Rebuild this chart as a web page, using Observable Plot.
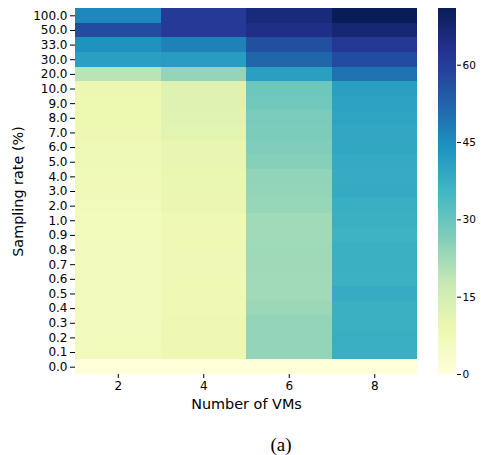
<!DOCTYPE html>
<html><head><meta charset="utf-8">
<script src="https://cdn.jsdelivr.net/npm/d3@7"></script>
<script src="https://cdn.jsdelivr.net/npm/@observablehq/plot@0.6"></script>
<style>
body{margin:0;background:#fff;}
#wrap{position:relative;width:481px;height:455px;font-family:"DejaVu Sans",sans-serif;}
#main{position:absolute;left:0;top:0;}
#cbar{position:absolute;left:438px;top:0;}
#cap{position:absolute;left:231px;width:100px;top:435px;height:19px;line-height:19px;text-align:center;font-family:"Liberation Serif",serif;font-size:19px;color:#000;}
</style>
</head><body>
<div id="wrap"><div id="main"></div><div id="cbar"></div><div id="cap">(a)</div></div>
<script>
// Categories
const vmCounts = [2, 4, 6, 8];
const rates = ["0.0","0.1","0.2","0.3","0.4","0.5","0.6","0.7","0.8","0.9",
  "1.0","2.0","3.0","4.0","5.0","6.0","7.0","8.0","9.0","10.0",
  "20.0","30.0","33.0","50.0","100.0"];
// Values per VM count, ordered as rates (0.0 ... 100.0)
const vm2 = [0, 6.6, 6.3, 6.3, 6.2, 6.2, 6.2, 6.2, 6.2, 6.4,
  6.4, 6.9, 7.1, 7.3, 7.8, 8.0, 8.4, 8.9, 8.9, 9.1,
  19.4, 41, 44, 57, 46];
const vm4 = [0, 8.5, 8.5, 8.5, 8.1, 8.1, 7.9, 7.9, 7.9, 8.1,
  8.1, 9.3, 9.5, 9.6, 9.8, 10.0, 11.5, 11.9, 12.2, 12.2,
  24, 41.7, 47, 61, 61];
const vm6 = [0, 24, 24, 24, 23, 22.6, 22.6, 22.7, 22.8, 22.6,
  22.6, 23.8, 24.1, 24.4, 25.8, 26.5, 27, 27.3, 28.7, 29,
  41, 52, 56.5, 64, 66];
const vm8 = [0, 37.3, 37.4, 36.9, 37, 38.2, 36.6, 36.9, 36.9, 36.3,
  36.9, 37.3, 38.4, 38.2, 38.4, 39.2, 39.3, 40.1, 40.3, 41,
  50, 57, 61.5, 67, 71];
const colorbarTicks = [0, 15, 30, 45, 60];
const vmax = 71;

const series = [vm2, vm4, vm6, vm8];
const table = rates.flatMap((r, i) => vmCounts.map((v, j) => ({vm: v, rate: r, value: series[j][i]})));

const palette = ["#ffffd9","#edf8b1","#c7e9b4","#7fcdbb","#41b6c4","#1d91c0","#225ea8","#253494","#081d58"];
const colorScale = {type: "linear", domain: palette.map((_, i) => i * vmax / (palette.length - 1)), range: palette, interpolate: "rgb"};

const main = Plot.plot({
  width: 425, height: 420,
  marginLeft: 75, marginRight: 8, marginTop: 8, marginBottom: 46,
  style: {fontFamily: "DejaVu Sans", fontSize: "12px", color: "#000", background: "transparent", overflow: "visible"},
  x: {type: "band", domain: vmCounts, padding: 0, round: false, label: null},
  y: {type: "band", domain: rates.slice().reverse(), padding: 0, round: false, label: null},
  color: colorScale,
  marks: [
    Plot.cell(table, {x: "vm", y: "rate", fill: "value", inset: 0, shapeRendering: "crispEdges"}),
    Plot.axisX({tickSize: 4, tickPadding: 3, label: null}),
    Plot.axisY({tickSize: 5, tickPadding: 3, label: null}),
    Plot.text(["Number of VMs"], {text: d => d, frameAnchor: "bottom", dy: 30, lineAnchor: "middle", textAnchor: "middle", fontSize: 14.4}),
    Plot.text(["Sampling rate (%)"], {text: d => d, frameAnchor: "left", dx: -57, rotate: -90, textAnchor: "middle", lineAnchor: "middle", fontSize: 14.4})
  ]
});
document.getElementById("main").appendChild(main);

const nSteps = 366;
const steps = d3.range(nSteps).map(i => i * vmax / nSteps);
const cbar = Plot.plot({
  width: 43, height: 420,
  marginLeft: 0, marginRight: 25, marginTop: 8, marginBottom: 46,
  style: {fontFamily: "DejaVu Sans", fontSize: "10.5px", color: "#000", background: "transparent", overflow: "visible"},
  y: {domain: [0, vmax], label: null},
  color: colorScale,
  marks: [
    Plot.barY(steps, {y1: d => d, y2: d => d + vmax / nSteps * 1.5, fill: d => d + vmax / nSteps / 2, shapeRendering: "crispEdges"}),
    Plot.axisY({anchor: "right", ticks: colorbarTicks, tickSize: 4, tickPadding: 2, label: null})
  ]
});
document.getElementById("cbar").appendChild(cbar);
</script>
</body></html>
